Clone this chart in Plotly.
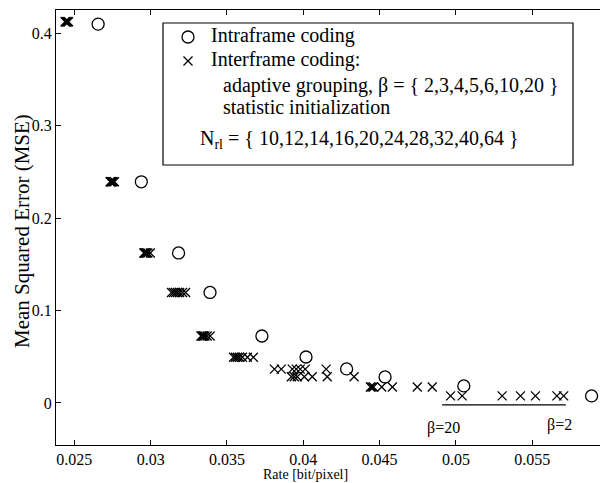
import plotly.graph_objects as go

# Intraframe coding (open circles), one per N_rl
intra_rate = [0.02656, 0.02939, 0.03183, 0.03389, 0.03729, 0.04018, 0.04284, 0.04536, 0.05052, 0.05889]
intra_mse = [0.4097, 0.2392, 0.1622, 0.1195, 0.0724, 0.0497, 0.0368, 0.0281, 0.0184, 0.0076]

# Interframe coding (crosses), 7 beta values per N_rl
inter_rate_rows = [
    [0.02440, 0.02443, 0.02446, 0.02449, 0.02452, 0.02456, 0.02462],
    [0.02735, 0.02738, 0.02741, 0.02744, 0.02748, 0.02754, 0.02763],
    [0.02956, 0.02960, 0.02964, 0.02968, 0.02973, 0.02982, 0.02998],
    [0.03137, 0.03150, 0.03163, 0.03176, 0.03190, 0.03209, 0.03229],
    [0.03330, 0.03336, 0.03342, 0.03348, 0.03356, 0.03370, 0.03390],
    [0.03543, 0.03556, 0.03569, 0.03582, 0.03601, 0.03634, 0.03673],
    [0.03811, 0.03856, 0.03928, 0.03954, 0.03980, 0.04013, 0.04150],
    [0.03922, 0.03941, 0.03961, 0.04007, 0.04059, 0.04157, 0.04333],
    [0.04440, 0.04450, 0.04460, 0.04514, 0.04584, 0.04747, 0.04845],
    [0.04965, 0.05041, 0.05303, 0.05423, 0.05521, 0.05662, 0.05706],
]
inter_mse_rows = [0.4123, 0.2392, 0.1622, 0.1195, 0.0724, 0.0494, 0.0366, 0.0284, 0.0172, 0.0076]

x_ticks = [0.025, 0.03, 0.035, 0.04, 0.045, 0.05, 0.055]
x_tick_text = ["0.025", "0.03", "0.035", "0.04", "0.045", "0.05", "0.055"]
y_ticks = [0, 0.1, 0.2, 0.3, 0.4]
y_tick_text = ["0", "0.1", "0.2", "0.3", "0.4"]

legend_lines = [
    "Intraframe coding",
    "Interframe coding:",
    "adaptive grouping, β = { 2,3,4,5,6,10,20 }",
    "statistic initialization",
    "N<sub>rl</sub> = { 10,12,14,16,20,24,28,32,40,64 }",
]

FONT = "Liberation Serif"
BLACK = "black"

inter_x = [v for row in inter_rate_rows for v in row]
inter_y = [m for row, m in zip(inter_rate_rows, inter_mse_rows) for _ in row]

# the page body has an 8px margin, so the figure is drawn 8px right/down in the window
OFF = 8
W, H = 608 - OFF, 483 - OFF
# plot area in window pixels
L, R, T, B = 56, 607, 10, 445


def px(xs):
    return (xs - L) / (R - L)


def py(ys):
    return (B - ys) / (B - T)


circle_marker = dict(symbol="circle-open", size=12, color=BLACK, line=dict(width=1.3))
cross_marker = dict(symbol="x-thin-open", size=9, color=BLACK, line=dict(width=1.3))

fig = go.Figure()
fig.add_trace(go.Scatter(x=intra_rate, y=intra_mse, mode="markers",
                         name="Intraframe coding", marker=circle_marker))
fig.add_trace(go.Scatter(x=inter_x, y=inter_y, mode="markers",
                         name="Interframe coding", marker=cross_marker))

# legend key glyphs, placed on a hidden overlay axis spanning the plot area (0..1)
key_x = [px(188), px(188)]
key_y = [py(37), py(61)]
fig.add_trace(go.Scatter(x=key_x[:1], y=key_y[:1], mode="markers", marker=circle_marker,
                         xaxis="x2", yaxis="y2", hoverinfo="skip", showlegend=False))
fig.add_trace(go.Scatter(x=key_x[1:], y=key_y[1:], mode="markers", marker=cross_marker,
                         xaxis="x2", yaxis="y2", hoverinfo="skip", showlegend=False))

shapes = [
    dict(type="rect", xref="paper", yref="paper",
         x0=px(163), x1=px(573), y0=py(165), y1=py(23),
         line=dict(color=BLACK, width=1.2), fillcolor="white", layer="below"),
    dict(type="line", xref="x", yref="y", x0=0.0491, x1=0.0572, y0=-0.0022, y1=-0.0022,
         line=dict(color=BLACK, width=1.2)),
]

annotations = []
legend_pos = [(209, 36), (209, 60), (221, 85), (221, 107), (198, 139)]
for txt, (xs, ys) in zip(legend_lines, legend_pos):
    annotations.append(dict(xref="paper", yref="paper", x=px(xs), y=py(ys), text=txt,
                            xanchor="left", yanchor="middle", showarrow=False,
                            font=dict(family=FONT, size=20, color=BLACK)))
annotations.append(dict(xref="x", yref="y", x=0.0492, y=-0.027, text="β=20", showarrow=False,
                        font=dict(family=FONT, size=16, color=BLACK)))
annotations.append(dict(xref="x", yref="y", x=0.0568, y=-0.024, text="β=2", showarrow=False,
                        font=dict(family=FONT, size=16, color=BLACK)))
annotations.append(dict(xref="paper", yref="paper", x=px(305), y=py(474), text="Rate [bit/pixel]",
                        showarrow=False, xanchor="center", yanchor="middle",
                        font=dict(family=FONT, size=14, color=BLACK)))
annotations.append(dict(xref="paper", yref="paper", x=px(22), y=py(231), text="Mean Squared Error (MSE)",
                        showarrow=False, xanchor="center", yanchor="middle", textangle=-90,
                        font=dict(family=FONT, size=21, color=BLACK)))

axis_common = dict(showline=True, linecolor=BLACK, linewidth=1.2, mirror="ticks",
                   ticks="inside", ticklen=5, tickcolor=BLACK, showgrid=False, zeroline=False,
                   tickfont=dict(family=FONT, size=16, color=BLACK))

fig.update_layout(
    width=W, height=H,
    margin=dict(l=L - OFF, r=W - (R - OFF), t=T - OFF, b=H - (B - OFF)),
    paper_bgcolor="white", plot_bgcolor="white",
    showlegend=False,
    shapes=shapes, annotations=annotations,
    xaxis=dict(range=[0.0238, 0.0599], tickvals=x_ticks, ticktext=x_tick_text, **axis_common),
    yaxis=dict(range=[-0.0455, 0.425], tickvals=y_ticks, ticktext=y_tick_text, **axis_common),
    xaxis2=dict(overlaying="x", range=[0, 1], visible=False, anchor="y2"),
    yaxis2=dict(overlaying="y", range=[0, 1], visible=False, anchor="x2"),
)

fig.write_html("out.html")
